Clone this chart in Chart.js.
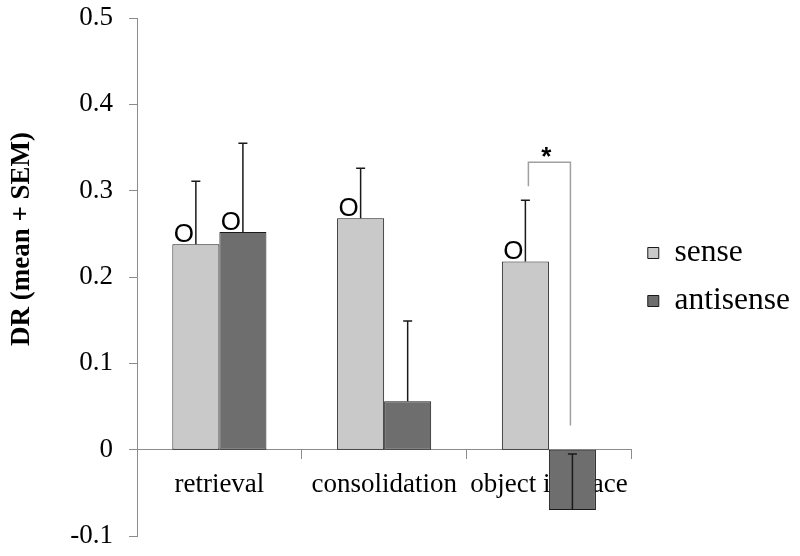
<!DOCTYPE html>
<html><head><meta charset="utf-8">
<script src="https://cdn.jsdelivr.net/npm/chart.js@4.4.1/dist/chart.umd.min.js"></script>
<style>html,body{margin:0;padding:0;background:#fff;} canvas{display:block;}</style>
</head><body>
<canvas id="c" width="800" height="556"></canvas>
<script>
// ---- data ----
const categories = ['retrieval', 'consolidation', 'object in place'];
const seriesNames = ['sense', 'antisense'];
const senseMean = [0.238, 0.268, 0.218];
const senseSem = [0.073, 0.058, 0.071];
const antisenseMean = [0.252, 0.056, -0.070];
const antisenseSem = [0.103, 0.093, 0.065];
const senseNote = ['O', 'O', 'O'];
const antisenseNote = ['O', '', ''];
const yMin = -0.1, yMax = 0.5, yStep = 0.1;
const yTitle = 'DR (mean + SEM)';
const sigLabel = '*';
const sigCategory = 2;
const sigBracketTop = 0.333, sigLeftEnd = 0.305, sigRightEnd = 0.028;

const SERIF = '"Liberation Serif", "Times New Roman", serif';
const SANS = '"Liberation Sans", Arial, sans-serif';
const AXIS_GRAY = '#8c8c8c';

const annot = {
  id: 'annot',
  afterDatasetsDraw(chart) {
    const ctx = chart.ctx, y = chart.scales.y;
    const means = [senseMean, antisenseMean];
    const sems = [senseSem, antisenseSem];
    const notes = [senseNote, antisenseNote];
    ctx.save();
    for (let d = 0; d < 2; d++) {
      const meta = chart.getDatasetMeta(d);
      meta.data.forEach((bar, i) => {
        const top = y.getPixelForValue(means[d][i] + sems[d][i]);
        ctx.strokeStyle = '#1a1a1a';
        ctx.lineWidth = 1.5;
        ctx.beginPath();
        ctx.moveTo(bar.x, bar.y);
        ctx.lineTo(bar.x, top);
        ctx.moveTo(bar.x - 4.5, top);
        ctx.lineTo(bar.x + 4.5, top);
        ctx.stroke();
        if (notes[d][i]) {
          ctx.font = '26px ' + SANS;
          ctx.fillStyle = '#000';
          ctx.textAlign = 'right';
          ctx.textBaseline = 'alphabetic';
          ctx.fillText(notes[d][i], bar.x - 2, Math.min(bar.y, bar.base) - 2);
        }
      });
    }
    // significance bracket
    const b0 = chart.getDatasetMeta(0).data[sigCategory];
    const b1 = chart.getDatasetMeta(1).data[sigCategory];
    const xl = b0.x + 3, xr = b1.x - 2;
    const yt = y.getPixelForValue(sigBracketTop);
    ctx.strokeStyle = '#a0a0a0';
    ctx.lineWidth = 1.5;
    ctx.beginPath();
    ctx.moveTo(xl, y.getPixelForValue(sigLeftEnd));
    ctx.lineTo(xl, yt);
    ctx.lineTo(xr, yt);
    ctx.lineTo(xr, y.getPixelForValue(sigRightEnd));
    ctx.stroke();
    ctx.font = 'bold 26px ' + SANS;
    ctx.fillStyle = '#000';
    ctx.textAlign = 'center';
    ctx.textBaseline = 'alphabetic';
    ctx.fillText(sigLabel, (xl + xr) / 2 - 3, yt + 3);
    ctx.restore();
  },
  afterDraw(chart) {
    const ctx = chart.ctx;
    ctx.save();
    ctx.translate(22, 239);
    ctx.rotate(-Math.PI / 2);
    ctx.font = 'bold 27px ' + SERIF;
    ctx.fillStyle = '#000';
    ctx.textAlign = 'center';
    ctx.textBaseline = 'middle';
    ctx.fillText(yTitle, 0, 0);
    ctx.restore();
  }
};

new Chart(document.getElementById('c'), {
  type: 'bar',
  data: {
    labels: categories,
    datasets: [
      { label: seriesNames[0], data: senseMean, backgroundColor: '#c9c9c9', borderColor: '#1a1a1a', borderWidth: 1, borderSkipped: false },
      { label: seriesNames[1], data: antisenseMean, backgroundColor: '#6e6e6e', borderColor: '#1a1a1a', borderWidth: 1, borderSkipped: false }
    ]
  },
  options: {
    responsive: false,
    animation: false,
    layout: { padding: { left: 0, top: 18, bottom: 20, right: 0 } },
    datasets: { bar: { barPercentage: 1, categoryPercentage: 0.571 } },
    scales: {
      x: {
        position: { y: 0 },
        grid: { drawOnChartArea: false, color: AXIS_GRAY, tickLength: 9, offset: true },
        border: { color: AXIS_GRAY, width: 1 },
        ticks: { color: '#000', font: { family: SERIF, size: 27 }, padding: 10, maxRotation: 0, minRotation: 0, autoSkip: false }
      },
      y: {
        min: yMin, max: yMax,
        afterFit(scale) { scale.width = 137; scale.paddingTop = 0; scale.paddingBottom = 0; },
        grid: { drawOnChartArea: false, color: AXIS_GRAY, tickLength: 8 },
        border: { color: AXIS_GRAY, width: 1 },
        ticks: {
          stepSize: yStep, color: '#000', font: { family: SERIF, size: 27 }, padding: 16,
          callback: v => String(Math.round(v * 10) / 10)
        }
      }
    },
    plugins: {
      legend: {
        position: 'right',
        labels: { boxWidth: 11, boxHeight: 11, padding: 16.5, color: '#000', font: { family: SERIF, size: 31.5 } }
      },
      tooltip: { enabled: false }
    }
  },
  plugins: [annot]
});
</script>
</body></html>
